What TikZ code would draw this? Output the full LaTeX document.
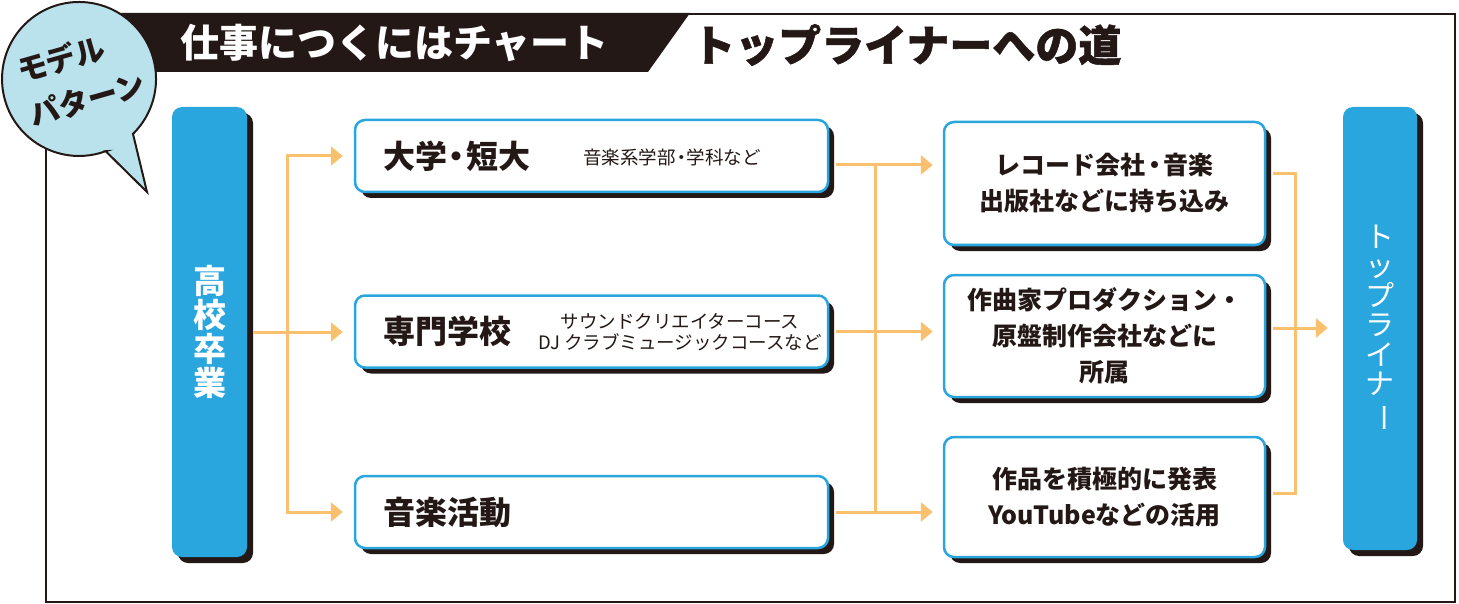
\documentclass[tikz,border=0pt]{standalone}
\usepackage{fontspec}
\usepackage{graphicx}
\setmainfont{Noto Sans CJK JP}
\newfontfamily\heavyjp{Noto Sans CJK JP}[BoldFeatures={FakeBold=1.2}]
\usetikzlibrary{arrows.meta,shadows}
\definecolor{inkblack}{HTML}{231815}
\definecolor{topblue}{HTML}{29A6DE}
\definecolor{flowor}{HTML}{FBC06D}
\definecolor{bubblue}{HTML}{B9E2EC}
\tikzset{
  boxshadow/.style={drop shadow={shadow xshift=6pt,shadow yshift=-6pt,fill=inkblack,opacity=1}},
  pillar/.style={fill=topblue, rounded corners=10pt, minimum width=75pt, inner sep=0pt, text=white, align=center, boxshadow},
  stage/.style={draw=topblue, line width=2.5pt, fill=white, rounded corners=10pt, minimum width=473pt, minimum height=72pt,
    inner xsep=28pt, text width=417pt, align=left, text=inkblack, font=\fontsize{32}{34}\selectfont\bfseries, boxshadow},
  goal/.style={draw=topblue, line width=2.5pt, fill=white, rounded corners=10pt, minimum width=321pt, inner sep=0pt,
    align=center, text=inkblack, font=\fontsize{25}{36}\selectfont\bfseries, boxshadow},
  note/.style={text=inkblack, inner sep=0pt, font=\fontsize{18.5}{21}\selectfont},
  flow/.style={draw=flowor, line width=3pt},
  tip/.style={-{Triangle[length=12pt,width=19pt]}}
}
\begin{document}
\begin{tikzpicture}[x=1pt,y=-1pt]
\useasboundingbox (0,0) rectangle (1459,604);
\draw[inkblack, line width=2pt] (46,14) rectangle (1455,602);
\fill[inkblack] (120,13) -- (690,13) -- (648,72) -- (120,72) -- cycle;
\node[anchor=west, inner sep=0pt, text=white, font=\fontsize{39}{40}\selectfont\bfseries] (chart) at (180,43) {仕事につくにはチャート};
\node[anchor=west, inner sep=0pt, text=inkblack, font=\fontsize{43}{44}\selectfont\heavyjp\bfseries] (road) at (692,45) {トップライナーへの道};
\draw[inkblack, line width=2pt, fill=bubblue] (105.7,151.2) -- (147,192) -- (133,133.9)
  arc[start angle=45.5, end angle=-290.3, radius=77] -- cycle;
\node[rotate=16, align=left, inner sep=0pt, text=inkblack, font=\fontsize{30}{46}\selectfont\bfseries] (model) at (81,77) {モデル\\パターン};

\node[pillar, minimum height=450pt, font=\fontsize{33}{34}\selectfont\bfseries] (hs) at (209.5,332) {高\\校\\卒\\業};
\node[stage] (uni) at (591.5,156) {大学\kern-.2em・\kern-.2em短大};
\node[stage] (prof) at (591.5,331.5) {専門学校};
\node[stage] (act) at (591.5,512) {音楽活動};
\node[note, anchor=west] (uninote) at (583,157) {音楽系学部\kern-.2em・\kern-.2em学科など};
\node[note, align=center] (profnote) at (680,332) {サウンドクリエイターコース\\DJ クラブミュージックコースなど};
\node[goal, minimum height=123pt] (rec) at (1104.5,183.5) {レコード会社\kern-.15em・\kern-.15em音楽\\出版社などに持ち込み};
\node[goal, minimum height=122pt] (dep) at (1104.5,336) {作曲家プロダクション・\\原盤制作会社などに\\所属};
\node[goal, minimum height=120pt] (pub) at (1104.5,497) {作品を積極的に発表\\YouTubeなどの活用};
\node[pillar, minimum height=443pt, minimum width=74pt, font=\fontsize{29}{29.5}\selectfont] (top) at (1380,328.5)
  {ト\\ッ\\プ\\ラ\\イ\\ナ\\\rotatebox[origin=c]{-90}{ー}};

\coordinate (sL) at (287,332);
\coordinate (mTop) at (875,165);
\coordinate (mBot) at (875,512);
\coordinate (sR) at (1295,328);
\draw[flow, shorten <=6pt] (hs.east) -- (sL);
\draw[flow, {Triangle[length=12pt,width=19pt]}-{Triangle[length=12pt,width=19pt]}, shorten <=11pt, shorten >=11pt]
  (uni.west) -| (sL) |- (act.west);
\draw[flow, tip, shorten <=6pt, shorten >=11pt] (hs.east) -- (hs.east -| prof.west);
\draw[flow, tip, shorten <=7pt, shorten >=10pt] ([yshift=-9pt]uni.east) -- ([yshift=-9pt]uni.east -| rec.west);
\draw[flow, tip, shorten <=7pt, shorten >=10pt] (prof.east) -- (prof.east -| dep.west);
\draw[flow, tip, shorten <=7pt, shorten >=10pt] (act.east) -- (act.east -| pub.west);
\draw[flow] (mTop) -- (mBot);
\draw[flow, shorten <=7pt, shorten >=7pt] ([yshift=10pt]rec.east) -| (sR) |- ([yshift=4pt]pub.east);
\draw[flow, tip, shorten <=7pt, shorten >=15pt] (sR -| dep.east) -- (sR -| top.west);
\end{tikzpicture}
\end{document}
